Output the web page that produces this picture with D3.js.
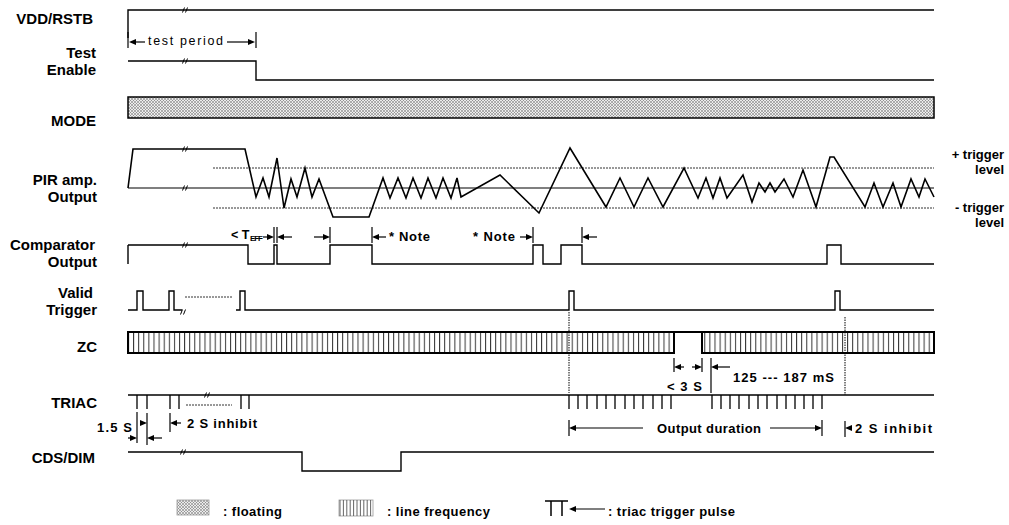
<!DOCTYPE html>
<html><head><meta charset="utf-8">
<script src="https://cdn.jsdelivr.net/npm/d3@7"></script>
<style>
body{margin:0;background:#fff}
svg{display:block}
text{font-family:"Liberation Sans",Arial,Helvetica,sans-serif;fill:#000}
</style>
</head><body><svg id="c" width="1009" height="525"></svg>
<script>
// ---------------- DATA (time in arbitrary units, levels 0/1 or analog) ----------------
const timeDomain = [0, 806];
const signalLabels = ["VDD/RSTB", "Test", "Enable", "MODE", "PIR  amp.", "Output", "Comparator", "Output", "Valid", "Trigger", "ZC", "TRIAC", "CDS/DIM"];
const vddEdges = [0];            const vddInit = 0;
const testEnableEdges = [128];   const testInit = 1;
const compEdges = [0, 120, 146, 149, 202, 244, 405, 415, 433, 454, 699, 713];
const cdsEdges = [174, 273];     const cdsInit = 1;
const pirT = [0, 5, 117, 128, 135, 141, 149, 156, 163, 169, 177, 184, 191, 205, 241, 255, 262, 270, 278, 285, 293, 300, 308, 315, 323, 329, 333, 372, 411, 442, 478, 492, 506, 520, 535, 556, 570, 578, 585, 592, 599, 615, 624, 631, 637, 642, 647, 656, 665, 675, 688, 702, 706, 737, 746, 755, 765, 773, 783, 791, 797, 806];
const pirV = [0, 1.95, 1.95, -0.45, 0.5, -0.45, 1.5, -1.0, 0.45, -0.45, 1.0, -0.45, 0.45, -1.45, -1.45, 0.5, -0.5, 0.5, -0.5, 0.5, -0.5, 0.5, -0.5, 0.5, -0.5, 0.5, -0.45, 0.65, -1.25, 2.0, -0.95, 0.5, -0.95, 0.5, -0.95, 1.0, -0.5, 0.5, -0.5, 0.5, -0.5, 0.65, -0.7, 0.25, -0.2, 0.25, -0.2, 0.45, -0.45, 0.9, -0.95, 1.55, 1.55, -0.95, 0.25, -0.95, 0.25, -0.95, 0.45, -0.45, 0.45, -0.45];
const triggerLevels = [1, -1];
const triggerLineStart = 85;
const validPulses = [[9, 15], [41, 46], [112, 117], [441, 446], [707, 712]];
const validSegments = [[0, 54], [108, 806]];
const validDotted = [57, 104];
const zcSegments = [[0, 546], [574, 806]];
const triacTicks = [9, 19, 42, 51, 113, 121, 441, 450, 459, 469, 478, 487, 497, 506, 515, 525, 534, 543, 584, 593, 602, 611, 621, 630, 639, 649, 658, 667, 676, 685, 694];
const triacDotted = [58, 104];
const breakMarksT = {vdd: 57, test: 57, pirTop: 57, pirBase: 57, comp: 57, valid: 55, triac: 79, cds: 55};
const legendLabels = [": floating", ": line frequency", ": triac trigger pulse"];
const levelLabels = ["+ trigger", "level", "- trigger", "level"];

// ---------------- LAYOUT ----------------
const svg = d3.select("#c");
const x = d3.scaleLinear().domain(timeDomain).range([128, 934]);
const rows = {
  vdd: {hi: 10, lo: 38}, test: {hi: 61, lo: 80}, mode: {top: 97, bot: 118},
  pir: {pos: 168, neg: 208}, comp: {hi: 245, lo: 264}, valid: {hi: 291, lo: 310},
  zc: {top: 332, bot: 353}, triac: {line: 395, tick: 409}, cds: {hi: 452, lo: 471}
};
const SW = 1.4;
const defs = svg.append("defs");
const ch = defs.append("pattern").attr("id", "cross").attr("patternUnits", "userSpaceOnUse").attr("width", 3).attr("height", 3);
ch.append("rect").attr("width", 3).attr("height", 3).attr("fill", "#ececec");
ch.append("path").attr("d", "M0,0L3,3M3,0L0,3").attr("stroke", "#777").attr("stroke-width", 0.55);
const vl = defs.append("pattern").attr("id", "vlines").attr("patternUnits", "userSpaceOnUse").attr("width", 5.1).attr("height", 10).attr("x", 128);
vl.append("rect").attr("width", 5.1).attr("height", 10).attr("fill", "#fff");
vl.append("line").attr("x1", 0.5).attr("x2", 0.5).attr("y1", 0).attr("y2", 10).attr("stroke", "#333").attr("stroke-width", 1);

function stepPoints(edges, init, end) {
  const pts = [[timeDomain[0], init]]; let lvl = init;
  edges.forEach(t => { pts.push([t, lvl]); lvl = 1 - lvl; pts.push([t, lvl]); });
  pts.push([end, lvl]); return pts;
}
function drawStep(edges, init, r) {
  const y = d3.scaleLinear().domain([0, 1]).range([r.lo, r.hi]);
  svg.append("path").attr("d", d3.line().x(d => x(d[0])).y(d => y(d[1]))(stepPoints(edges, init, timeDomain[1])))
    .attr("fill", "none").attr("stroke", "#000").attr("stroke-width", SW);
}
function breakMark(t, y) {
  const xx = x(t);
  svg.append("path").attr("d", `M${xx-2.5},${y+2.5}L${xx-0.5},${y-2.5}M${xx+0.5},${y+2.5}L${xx+2.5},${y-2.5}`)
    .attr("stroke", "#000").attr("stroke-width", 1).attr("fill", "none");
}
function head(xt, y, dir) {
  svg.append("path").attr("d", `M${xt},${y}L${xt-7*dir},${y-3}L${xt-7*dir},${y+3}Z`).attr("fill", "#000");
}
function arrow(tFrom, tTip, y) {
  const a = x(tFrom), b = x(tTip), dir = b > a ? 1 : -1;
  svg.append("line").attr("x1", a).attr("x2", b - 3 * dir).attr("y1", y).attr("y2", y).attr("stroke", "#000").attr("stroke-width", 1.2);
  head(b, y, dir);
}
function tick(t, y1, y2, w) {
  svg.append("line").attr("x1", x(t)).attr("x2", x(t)).attr("y1", y1).attr("y2", y2).attr("stroke", "#000").attr("stroke-width", w || 1.2);
}
function label(str, x0, x1, yb, size, weight) {
  const t = svg.append("text").attr("x", x0).attr("y", yb).attr("font-size", size).attr("font-weight", weight || "bold").text(str);
  if (x1 != null) t.attr("textLength", x1 - x0).attr("lengthAdjust", "spacing");
  return t;
}
function rlabel(str, xr, yb, size) {
  return svg.append("text").attr("x", xr).attr("y", yb).attr("text-anchor", "end").attr("font-size", size).attr("font-weight", "bold").text(str);
}

// ---------------- SIGNAL LABELS ----------------
const labelPos = [[93, 24], [96, 58], [96, 75], [96, 126], [97, 185], [97, 202], [95, 250], [97, 267], [93, 298], [97, 315], [97, 352], [97, 408], [95, 463]];
signalLabels.forEach((s, i) => rlabel(s, labelPos[i][0], labelPos[i][1], 15));

// ---------------- VDD / TEST ----------------
drawStep(vddEdges, vddInit, rows.vdd);
breakMark(breakMarksT.vdd, rows.vdd.hi);
tick(0, 32, 48); tick(128, 32, 48);
arrow(17, 1, 42); arrow(99, 127, 42);
label("test period", 148, 223, 45, 12.5, "normal");
drawStep(testEnableEdges, testInit, rows.test);
breakMark(breakMarksT.test, rows.test.hi);

// ---------------- MODE ----------------
svg.append("rect").attr("x", x(0)).attr("y", rows.mode.top).attr("width", x(timeDomain[1]) - x(0)).attr("height", rows.mode.bot - rows.mode.top)
  .attr("fill", "url(#cross)").attr("stroke", "#000").attr("stroke-width", 1.5);

// ---------------- PIR ----------------
const yPir = d3.scaleLinear().domain([-1, 1]).range([rows.pir.neg, rows.pir.pos]);
triggerLevels.forEach(v => svg.append("line").attr("x1", x(triggerLineStart)).attr("x2", x(timeDomain[1])).attr("y1", yPir(v)).attr("y2", yPir(v))
  .attr("stroke", "#333").attr("stroke-width", 1).attr("stroke-dasharray", "2,1"));
svg.append("line").attr("x1", x(0)).attr("x2", x(timeDomain[1])).attr("y1", yPir(0)).attr("y2", yPir(0)).attr("stroke", "#000").attr("stroke-width", 1.2);
svg.append("path").attr("d", d3.line().x((d, i) => x(pirT[i])).y((d, i) => yPir(pirV[i]))(pirT))
  .attr("fill", "none").attr("stroke", "#000").attr("stroke-width", 1.6).attr("stroke-linejoin", "miter");
breakMark(breakMarksT.pirTop, yPir(pirV[1]));
breakMark(breakMarksT.pirBase, yPir(0));
rlabel(levelLabels[0], 1004, 159, 13);
rlabel(levelLabels[1], 1004, 174, 13);
rlabel(levelLabels[2], 1004, 212, 13);
rlabel(levelLabels[3], 1004, 227, 13);

// ---------------- COMPARATOR ----------------
drawStep(compEdges.slice(1), 1, rows.comp);
tick(compEdges[0], rows.comp.hi, rows.comp.lo, SW);
breakMark(breakMarksT.comp, rows.comp.hi);
label("< T", 231, null, 239, 12.5);
label("EFF", 250, 263, 241, 8);
arrow(135, 146, 237); tick(146, 227, 243); tick(149, 227, 243); arrow(164, 149, 237);
arrow(186, 202, 237); tick(202, 227, 243);
tick(244, 227, 243); arrow(258, 244, 237); label("* Note", 389, 430, 241, 13);
label("* Note", 473, 515, 241, 13); arrow(392, 405, 237); tick(405, 227, 243);
tick(454, 227, 243); arrow(469, 454, 237);

// ---------------- VALID TRIGGER ----------------
const yValid = d3.scaleLinear().domain([0, 1]).range([rows.valid.lo, rows.valid.hi]);
validSegments.forEach(seg => {
  const pts = [[seg[0], 0]];
  validPulses.filter(p => p[0] >= seg[0] && p[1] <= seg[1]).forEach(p => { pts.push([p[0], 0], [p[0], 1], [p[1], 1], [p[1], 0]); });
  pts.push([seg[1], 0]);
  svg.append("path").attr("d", d3.line().x(d => x(d[0])).y(d => yValid(d[1]))(pts)).attr("fill", "none").attr("stroke", "#000").attr("stroke-width", SW);
});
svg.append("line").attr("x1", x(validDotted[0])).attr("x2", x(validDotted[1])).attr("y1", 297).attr("y2", 297).attr("stroke", "#333").attr("stroke-width", 1).attr("stroke-dasharray", "2,1");
breakMark(breakMarksT.valid, rows.valid.lo + 2);

// ---------------- ZC ----------------
zcSegments.forEach(seg => svg.append("rect").attr("x", x(seg[0])).attr("y", rows.zc.top).attr("width", x(seg[1]) - x(seg[0])).attr("height", rows.zc.bot - rows.zc.top)
  .attr("fill", "url(#vlines)").attr("stroke", "#000").attr("stroke-width", 2));
svg.append("line").attr("x1", x(zcSegments[0][1])).attr("x2", x(zcSegments[1][0])).attr("y1", rows.zc.top).attr("y2", rows.zc.top).attr("stroke", "#000").attr("stroke-width", 2);
tick(546, 358, 372); tick(574, 358, 372);
arrow(556, 546, 367); arrow(564, 574, 367);
label("< 3 S", 667, 702, 391, 13);
tick(583, 358, 393); arrow(602, 583, 367);
label("125 --- 187 mS", 733, 834, 382, 13);

// ---------------- TRIAC ----------------
svg.append("line").attr("x1", x(0)).attr("x2", x(timeDomain[1])).attr("y1", rows.triac.line).attr("y2", rows.triac.line).attr("stroke", "#000").attr("stroke-width", 1.6);
triacTicks.forEach(t => tick(t, rows.triac.line, rows.triac.tick, 1.3));
svg.append("line").attr("x1", x(triacDotted[0])).attr("x2", x(triacDotted[1])).attr("y1", 405).attr("y2", 405).attr("stroke", "#333").attr("stroke-width", 1).attr("stroke-dasharray", "2,1");
breakMark(breakMarksT.triac, rows.triac.line);
[[441, 312, 393], [717, 317, 395]].forEach(d => svg.append("line").attr("x1", x(d[0])).attr("x2", x(d[0])).attr("y1", d[1]).attr("y2", d[2])
  .attr("stroke", "#000").attr("stroke-width", 1).attr("stroke-dasharray", "1.5,1"));
tick(441, 420, 436); arrow(515, 441, 428); label("Output duration", 657, 761, 433, 13); arrow(642, 694, 428); tick(694, 420, 436);
tick(717, 421, 437); arrow(724, 717, 428); label("2 S inhibit", 855, 932, 433, 13);
label("1.5 S", 97, 132, 432, 13);
tick(9, 412, 443); tick(19, 413, 445);
arrow(0, 9, 438); arrow(34, 19, 438); head(x(19), 423, 1);
tick(42, 413, 432); arrow(53, 42, 423); label("2 S inhibit", 187, 257, 428, 13);

// ---------------- CDS/DIM ----------------
drawStep(cdsEdges, cdsInit, rows.cds);
breakMark(breakMarksT.cds, rows.cds.hi);

// ---------------- LEGEND ----------------
svg.append("rect").attr("x", 177).attr("y", 500).attr("width", 32).attr("height", 15).attr("fill", "url(#cross)").attr("stroke", "#999").attr("stroke-width", 0.8);
label(legendLabels[0], 223, 282, 516, 13);
svg.append("rect").attr("x", 339).attr("y", 500).attr("width", 34).attr("height", 16).attr("fill", "#fff").attr("stroke", "#999").attr("stroke-width", 0.8);
d3.range(340, 373, 3.4).forEach(xx => svg.append("line").attr("x1", xx).attr("x2", xx).attr("y1", 500).attr("y2", 516).attr("stroke", "#555").attr("stroke-width", 0.9));
label(legendLabels[1], 387, 490, 516, 13);
svg.append("path").attr("d", "M545,501L568,501M551,501L551,516M562,501L562,516").attr("stroke", "#000").attr("stroke-width", 1.5).attr("fill", "none");
svg.append("line").attr("x1", 605).attr("x2", 572).attr("y1", 509).attr("y2", 509).attr("stroke", "#000").attr("stroke-width", 1.2);
svg.append("path").attr("d", "M569,509L576,506L576,512Z").attr("fill", "#000");
label(legendLabels[2], 608, 735, 516, 13);
</script></body></html>
